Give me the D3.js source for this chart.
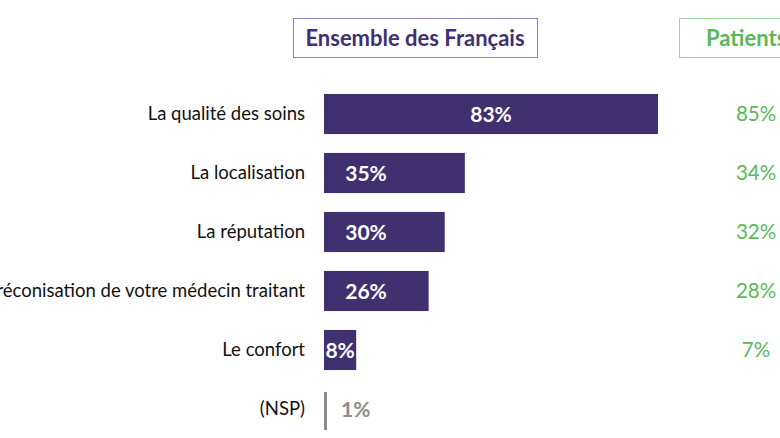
<!DOCTYPE html>
<html>
<head>
<meta charset="utf-8">
<script src="https://cdn.jsdelivr.net/npm/d3@7"></script>
<style>
  html, body { margin: 0; padding: 0; background: #fff; overflow: hidden; }
  svg { display: block; font-family: Lato, "Open Sans", sans-serif; }
</style>
</head>
<body>
<svg id="chart"></svg>
<script>
const width = 780, height = 438;

// data
const categories = [
  "La qualité des soins",
  "La localisation",
  "La réputation",
  "La préconisation de votre médecin traitant",
  "Le confort",
  "(NSP)"
];
const ensemble = [83, 35, 30, 26, 8, 1];
const patients = [85, 34, 32, 28, 7, null];

const purple = "#40306f";
const green = "#5cb85c";
const grey = "#8c8c8c";

const svg = d3.select("#chart")
  .attr("width", width)
  .attr("height", height);

const x = d3.scaleLinear()
  .domain([0, 83])
  .range([324, 658]);

const y = d3.scaleBand()
  .domain(categories)
  .range([84.5, 438.5])
  .paddingInner(0.32)
  .paddingOuter(0.16);

// header boxes
const hdr = svg.append("g");
hdr.append("rect")
  .attr("x", 293.5).attr("y", 18.5)
  .attr("width", 244).attr("height", 39)
  .attr("fill", "none").attr("stroke", "#8f7fc0").attr("stroke-width", 1);
hdr.append("text")
  .attr("x", 415).attr("y", 45.5)
  .attr("text-anchor", "middle")
  .attr("font-size", 22).attr("font-weight", "bold")
  .attr("fill", purple)
  .text("Ensemble des Français");

hdr.append("rect")
  .attr("x", 679.5).attr("y", 18.5)
  .attr("width", 140).attr("height", 39)
  .attr("fill", "none").attr("stroke", "#9fd89f").attr("stroke-width", 1);
hdr.append("text")
  .attr("x", 706).attr("y", 45.5)
  .attr("font-size", 22).attr("font-weight", "bold")
  .attr("fill", green)
  .text("Patients");

const rows = svg.append("g")
  .selectAll("g")
  .data(categories.map((c, i) => ({cat: c, v: ensemble[i], p: patients[i], nsp: c === "(NSP)"})))
  .join("g");

// category labels
rows.append("text")
  .attr("x", 305)
  .attr("y", d => y(d.cat) + y.bandwidth() / 2)
  .attr("dy", "0.35em")
  .attr("text-anchor", "end")
  .attr("font-size", 18.5)
  .attr("fill", "#111")
  .text(d => d.cat);

// bars
rows.append("rect")
  .attr("x", x(0))
  .attr("y", d => d.nsp ? y(d.cat) + 3 : y(d.cat))
  .attr("width", d => d.nsp ? 3 : x(d.v) - x(0))
  .attr("height", d => d.nsp ? y.bandwidth() - 2 : y.bandwidth())
  .attr("fill", d => d.nsp ? grey : purple);

// value labels
function labelX(d) {
  if (d.nsp) return x(0) + 17;
  if (d.v >= 50) return (x(0) + x(d.v)) / 2;
  if (d.v >= 20) return x(0) + 42;
  return (x(0) + x(d.v)) / 2;
}
rows.append("text")
  .attr("x", labelX)
  .attr("y", d => y(d.cat) + y.bandwidth() / 2)
  .attr("dy", "0.36em")
  .attr("text-anchor", d => d.nsp ? "start" : "middle")
  .attr("font-size", 21).attr("font-weight", "bold")
  .attr("fill", d => d.nsp ? grey : "#fff")
  .text(d => d.v + "%");

// patients column
rows.filter(d => d.p != null).append("text")
  .attr("x", 756)
  .attr("y", d => y(d.cat) + y.bandwidth() / 2)
  .attr("dy", "0.36em")
  .attr("text-anchor", "middle")
  .attr("font-size", 20.5)
  .attr("fill", green)
  .text(d => d.p + "%");
</script>
</body>
</html>
